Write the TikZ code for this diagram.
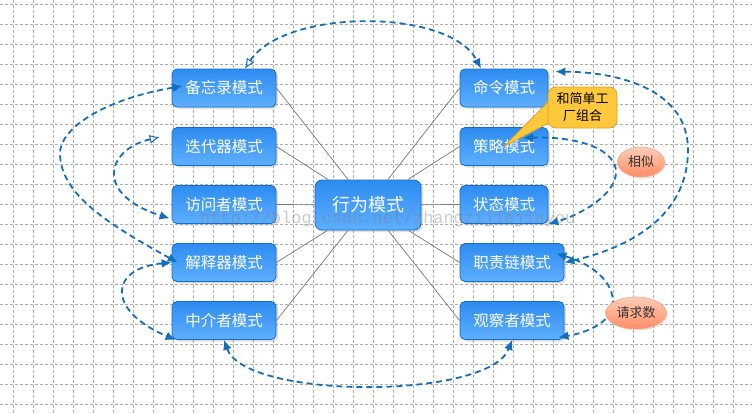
\documentclass[tikz,border=0pt]{standalone}
\usepackage{fontspec}
\newfontfamily\cjk{Noto Sans CJK SC}
\newfontfamily\wmfont{Liberation Mono}
\usetikzlibrary{arrows.meta,shapes.geometric,shadows}

\begin{document}
\begin{tikzpicture}[x=1pt,y=-1pt,
  gridline/.style={draw=gridgray,line width=0.6pt,dash pattern=on 3pt off 2pt},
  modebox/.style={draw=boxborder,line width=0.8pt,rounded corners=5pt,
    top color=boxtop,bottom color=boxbottom,text=white,
    minimum width=104pt,minimum height=38pt,inner sep=0pt,
    font=\cjk\fontsize{15.5}{18}\selectfont,
    drop shadow={shadow xshift=2pt,shadow yshift=-2pt,opacity=0.25}},
  noteoval/.style={ellipse,draw=ovalborder,line width=0.6pt,
    top color=ovaltop,bottom color=ovalbottom,inner sep=0pt,text=black!80,
    font=\cjk\fontsize{13}{15}\selectfont,
    drop shadow={shadow xshift=1.5pt,shadow yshift=-1.5pt,opacity=0.2}},
  notebox/.style={draw=calloutborder,line width=0.8pt,fill=calloutfill,
    rounded corners=8pt,minimum width=69pt,minimum height=41pt,
    inner sep=2pt,align=center,font=\cjk\fontsize{13}{17}\selectfont},
  spoke/.style={draw=spokegray,line width=0.7pt},
  link/.style={draw=linkblue,line width=1.8pt,dash pattern=on 6pt off 4pt},
  fullhead/.tip={Latex[length=10pt,width=9pt]},
  openhead/.tip={Latex[open,length=10pt,width=9pt,line width=1pt]},
  watermark/.style={font=\wmfont\fontsize{16.9}{18}\selectfont,
    text=gray,opacity=0.4,inner sep=0pt}]
\definecolor{gridgray}{RGB}{175,175,175}
\definecolor{boxborder}{RGB}{20,110,210}
\definecolor{boxtop}{RGB}{45,140,240}
\definecolor{boxbottom}{RGB}{95,175,255}
\definecolor{ovalborder}{RGB}{245,165,135}
\definecolor{ovaltop}{RGB}{255,205,185}
\definecolor{ovalbottom}{RGB}{255,140,100}
\definecolor{calloutborder}{RGB}{225,160,30}
\definecolor{calloutfill}{RGB}{255,200,60}
\definecolor{spokegray}{RGB}{120,120,120}
\definecolor{linkblue}{RGB}{20,110,190}

\useasboundingbox (0,0) rectangle (752,413);
\fill[white] (0,0) rectangle (752,413);

% background grid
\foreach \gx in {13.3,33.3,...,752}
  \draw[gridline] (\gx,0) -- (\gx,413);
\foreach \gy in {4.3,24.3,...,413}
  \draw[gridline] (0,\gy) -- (752,\gy);

% pattern boxes
\node[modebox,minimum width=106pt,minimum height=50pt,rounded corners=7pt,
  font=\cjk\fontsize{18}{20}\selectfont] (behavior) at (368,205) {行为模式};

\node[modebox] (memento)     at (224,88)    {备忘录模式};
\node[modebox] (iterator)    at (224,146.5) {迭代器模式};
\node[modebox] (visitor)     at (224,204.5) {访问者模式};
\node[modebox] (interpreter) at (224,262.5) {解释器模式};
\node[modebox] (mediator)    at (224,320.5) {中介者模式};

\node[modebox,minimum width=88pt] (command)  at (504,88)    {命令模式};
\node[modebox,minimum width=88pt] (strategy) at (504,146.5) {策略模式};
\node[modebox,minimum width=88pt] (state)    at (504,204.5) {状态模式};
\node[modebox] (chain)    at (512,262.5) {职责链模式};
\node[modebox] (observer) at (512,320.5) {观察者模式};

% spokes from the centre
\foreach \m in {memento,iterator,visitor,interpreter,mediator}
  \draw[spoke] (behavior) -- (\m.east);
\foreach \m in {command,strategy,state,chain,observer}
  \draw[spoke] (behavior) -- (\m.west);

% dashed relations
\draw[link,openhead-fullhead] ([xshift=21pt]memento.north)
  .. controls (285,8) and (450,8) .. ([xshift=-23pt]command.north);
\draw[link,fullhead-fullhead] ([xshift=6pt]interpreter.west)
  .. controls (110,225) and (60,195) .. (60,153)
  .. controls (60,130) and (100,100) .. ([xshift=11pt,yshift=2pt]memento.west);
\draw[link,openhead-fullhead] ([xshift=-12pt,yshift=9.5pt]iterator.west)
  .. controls (105,150) and (95,195) .. ([xshift=-2pt,yshift=5.5pt]visitor.south west);
\draw[link,fullhead-fullhead] (interpreter.west)
  .. controls (110,268) and (105,310) .. ([xshift=4pt]mediator.south west);
\draw[link,fullhead-fullhead] (mediator.south)
  .. controls (245,400) and (490,400) .. (observer.south);
\draw[link,fullhead-fullhead] (chain.east)
  .. controls (640,245) and (688,210) .. (688,150)
  .. controls (688,90) and (620,72) .. ([xshift=7pt,yshift=-3pt]command.north east);
\draw[link,fullhead-fullhead] ([xshift=19pt,yshift=8.5pt]strategy.center)
  .. controls (580,136) and (616,150) .. (616,172)
  .. controls (616,195) and (580,215) .. (state.south east);
\draw[link,fullhead-fullhead] ([xshift=-8pt,yshift=-10.5pt]chain.north east)
  .. controls (595,265) and (618,285) .. (612,310)
  .. controls (605,325) and (585,333) .. ([xshift=-6pt,yshift=2.5pt]observer.south east);

% notes
\node[noteoval,minimum width=47pt,minimum height=30pt] (similar) at (641,162) {相似};
\node[noteoval,minimum width=61pt,minimum height=32pt] (request) at (636,313) {请求数};

\coordinate (combospot) at (582.5,107.5);
\filldraw[fill=calloutfill,draw=calloutborder,line width=0.8pt]
  ([shift={(-32.5,-7.5)}]combospot) -- (strategy.center)
  -- ([shift={(-24.5,10.5)}]combospot) -- cycle;
\node[notebox] (combo) at (combospot) {和简单工\\厂组合};
\fill[calloutfill] ([shift={(-32.5,-7.5)}]combospot) -- ([shift={(-31,-4)}]combospot)
  -- ([shift={(-24.5,10.5)}]combospot) -- ([shift={(-27,10.5)}]combospot) -- cycle;

\node[watermark,anchor=base west] (mark) at (200,223) {http://blog.csdn.net/zhangzijiejiayou};
\end{tikzpicture}
\end{document}
